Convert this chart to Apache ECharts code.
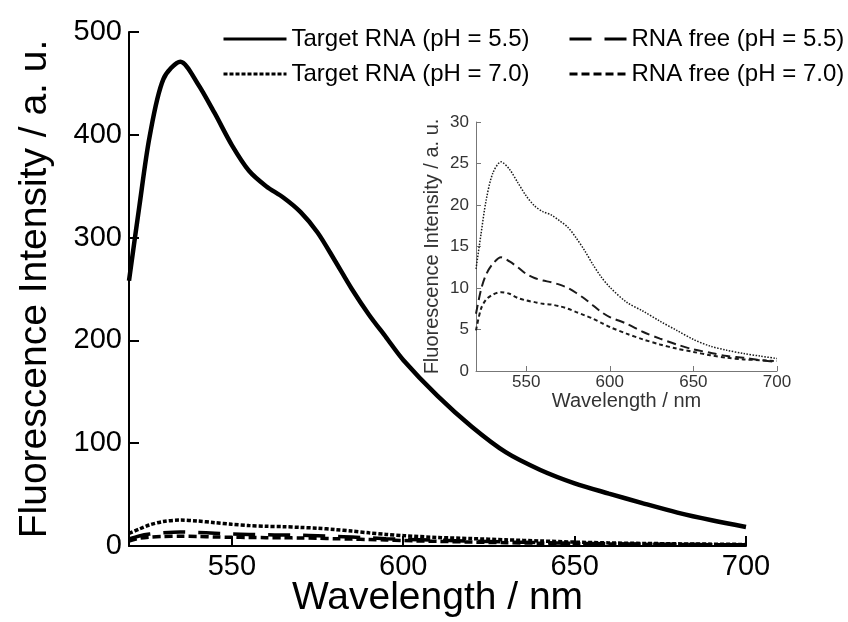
<!DOCTYPE html>
<html><head><meta charset="utf-8">
<script src="https://cdn.jsdelivr.net/npm/echarts@6/dist/echarts.min.js"></script>
<style>html,body{margin:0;padding:0;background:#fff}#chart{width:848px;height:622px}</style>
</head><body><div id="chart"></div>
<script>
// Wavelength grid (nm)
const wavelength = [520, 523, 526, 530, 535, 540, 545, 550, 555, 560, 565, 570, 575, 580, 585, 590, 595, 600, 610, 620, 630, 640, 650, 660, 670, 680, 690, 700];
// Target RNA (pH = 5.5)
const targetPH55 = [258, 330, 398, 454, 471, 450, 421, 390, 365, 350, 339, 325, 305, 278, 250, 225, 203, 181, 146, 116, 91, 74, 61, 51, 41.5, 32.5, 25, 18.5];
// Target RNA (pH = 7.0)
const targetPH70 = [12.3, 16.5, 20.5, 23.8, 25.2, 24.3, 22.7, 21.1, 19.9, 19.2, 18.8, 18.1, 17.3, 16.0, 14.5, 12.8, 11.3, 10.1, 8.3, 7.2, 6.0, 4.9, 3.8, 3.0, 2.5, 2.1, 1.8, 1.5];
// RNA free (pH = 5.5)
const freePH55 = [6.9, 9.8, 11.6, 12.9, 13.7, 13.2, 12.5, 11.7, 11.2, 10.9, 10.7, 10.4, 10.0, 9.4, 8.7, 7.9, 7.1, 6.5, 5.7, 4.7, 3.9, 3.2, 2.6, 2.2, 1.8, 1.6, 1.3, 1.1];
// RNA free (pH = 7.0)
const freePH70 = [4.9, 7.5, 8.6, 9.2, 9.5, 9.3, 8.8, 8.5, 8.3, 8.1, 8.0, 7.8, 7.5, 7.1, 6.7, 6.3, 5.8, 5.3, 4.5, 3.8, 3.2, 2.7, 2.3, 1.9, 1.6, 1.4, 1.3, 1.2];

const seriesNames = ['Target RNA (pH = 5.5)', 'Target RNA (pH = 7.0)', 'RNA free (pH = 5.5)', 'RNA free (pH = 7.0)'];
const xTickValues = [550, 600, 650, 700];
const mainYTicks = [0, 100, 200, 300, 400, 500];
const insetYTicks = [0, 5, 10, 15, 20, 25, 30];
const xTitle = 'Wavelength / nm';
const yTitle = 'Fluorescence Intensity / a. u.';

const pairs = arr => wavelength.map((w, i) => [w, arr[i]]);
const FONT = 'Liberation Sans, Arial, sans-serif';

const chart = echarts.init(document.getElementById('chart'), null, {renderer: 'canvas'});

function mainLine(name, data, width, type) {
  return {
    name, type: 'line', xAxisIndex: 0, yAxisIndex: 0, data: pairs(data),
    smooth: 0.3, symbol: 'none', animation: false,
    lineStyle: {color: '#000', width, type, cap: 'butt'}
  };
}
function insetLine(name, data, width, type) {
  return {
    name, type: 'line', xAxisIndex: 1, yAxisIndex: 1, data: pairs(data),
    smooth: 0.3, symbol: 'none', animation: false,
    lineStyle: {color: '#1a1a1a', width, type, cap: 'butt'}
  };
}

const legendCommon = {
  orient: 'vertical', padding: 0, itemGap: 11, itemHeight: 14,
  textStyle: {fontFamily: FONT, fontSize: 24, color: '#000'},
  itemStyle: {opacity: 0},
  lineStyle: {width: 3},
  selectedMode: false
};

const option = {
  backgroundColor: '#fff',
  animation: false,
  textStyle: {fontFamily: FONT},
  legend: [
    Object.assign({}, legendCommon, {left: 222, top: 27, itemWidth: 63, data: [seriesNames[0], seriesNames[1]]}),
    Object.assign({}, legendCommon, {left: 568, top: 27, itemWidth: 57, data: [seriesNames[2], seriesNames[3]]})
  ],
  grid: [
    {left: 129, right: 102, top: 32, bottom: 76, containLabel: false, outerBoundsMode: 'none'},
    {left: 476, right: 71, top: 122, bottom: 251, containLabel: false, outerBoundsMode: 'none'}
  ],
  xAxis: [
    {
      type: 'value', gridIndex: 0, min: 520, max: 700,
      name: xTitle, nameLocation: 'middle', nameGap: 33, nameMoveOverlap: false,
      nameTextStyle: {fontFamily: FONT, fontSize: 39, color: '#000'},
      axisLine: {lineStyle: {color: '#000', width: 2}},
      axisTick: {inside: true, length: 10, lineStyle: {color: '#000', width: 2}, customValues: xTickValues},
      axisLabel: {fontFamily: FONT, fontSize: 29, color: '#000', margin: 6, customValues: xTickValues},
      splitLine: {show: false}
    },
    {
      type: 'value', gridIndex: 1, min: 520, max: 700,
      name: xTitle, nameLocation: 'middle', nameGap: 20, nameMoveOverlap: false,
      nameTextStyle: {fontFamily: FONT, fontSize: 20, color: '#333'},
      axisLine: {lineStyle: {color: '#777', width: 1}},
      axisTick: {inside: true, length: 5, lineStyle: {color: '#777', width: 1}, customValues: xTickValues},
      axisLabel: {fontFamily: FONT, fontSize: 17, color: '#333', margin: 3, customValues: xTickValues},
      splitLine: {show: false}
    }
  ],
  yAxis: [
    {
      type: 'value', gridIndex: 0, min: 0, max: 500,
      name: yTitle, nameLocation: 'middle', nameGap: 74, nameMoveOverlap: false,
      nameTextStyle: {fontFamily: FONT, fontSize: 39, color: '#000'},
      axisLine: {show: true, lineStyle: {color: '#000', width: 2}},
      axisTick: {show: true, inside: true, length: 10, lineStyle: {color: '#000', width: 2}, customValues: mainYTicks},
      axisLabel: {fontFamily: FONT, fontSize: 29, color: '#000', margin: 7, customValues: mainYTicks},
      splitLine: {show: false}
    },
    {
      type: 'value', gridIndex: 1, min: 0, max: 30,
      name: yTitle, nameLocation: 'middle', nameGap: 34, nameMoveOverlap: false,
      nameTextStyle: {fontFamily: FONT, fontSize: 20, color: '#333'},
      axisLine: {show: true, lineStyle: {color: '#777', width: 1}},
      axisTick: {show: true, inside: true, length: 5, lineStyle: {color: '#777', width: 1}, customValues: insetYTicks},
      axisLabel: {fontFamily: FONT, fontSize: 17, color: '#333', margin: 7, customValues: insetYTicks},
      splitLine: {show: false}
    }
  ],
  series: [
    mainLine(seriesNames[0], targetPH55, 4.5, 'solid'),
    mainLine(seriesNames[1], targetPH70, 3.5, [4, 2]),
    mainLine(seriesNames[2], freePH55, 3.5, [22, 13]),
    mainLine(seriesNames[3], freePH70, 3.5, [8, 4]),
    insetLine(seriesNames[1], targetPH70, 1.5, [1.5, 1.5]),
    insetLine(seriesNames[2], freePH55, 2, [9, 5]),
    insetLine(seriesNames[3], freePH70, 2, [4, 3])
  ]
};
chart.setOption(option);
</script>
</body></html>
